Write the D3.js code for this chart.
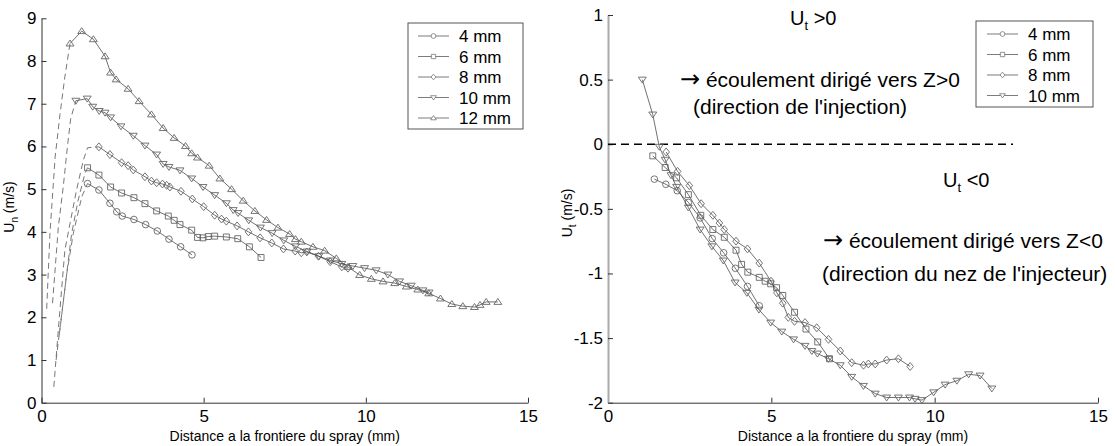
<!DOCTYPE html>
<html><head><meta charset="utf-8">
<script src="https://cdn.jsdelivr.net/npm/d3@7"></script>
<style>
body{margin:0;background:#fff}
svg{display:block}
text{font-family:"Liberation Sans",Arial,Helvetica,sans-serif;fill:#000}
</style>
</head><body>
<svg id="c" width="1115" height="446"></svg>
<script>
// ---------- DATA ----------
const xTicks = [0, 5, 10, 15];
const yTicksLeft = [0, 1, 2, 3, 4, 5, 6, 7, 8, 9];
const yTicksRight = [-2, -1.5, -1, -0.5, 0, 0.5, 1];
const xTitle = "Distance a la frontiere du spray (mm)";
const leftNames = ["4 mm", "6 mm", "8 mm", "10 mm", "12 mm"];
const rightNames = ["4 mm", "6 mm", "8 mm", "10 mm"];
const markerTypes = ["o", "s", "d", "v", "^"];

// Left chart: U_n (m/s)
const un4 = [[1.42,5.13],[1.77,4.98],[2.11,4.67],[2.32,4.47],[2.49,4.37],[2.85,4.29],[3.21,4.17],[3.57,4.02],[3.93,3.83],[4.29,3.65],[4.64,3.46]];
const un6 = [[1.42,5.50],[1.77,5.33],[2.13,5.05],[2.47,4.91],[2.85,4.80],[3.19,4.66],[3.55,4.49],[3.91,4.37],[4.09,4.27],[4.27,4.17],[4.63,4.04],[4.81,3.87],[4.98,3.86],[5.14,3.89],[5.34,3.90],[5.70,3.88],[6.05,3.84],[6.41,3.65],[6.77,3.40]];
const un8 = [[1.77,5.99],[2.11,5.81],[2.47,5.62],[2.67,5.55],[2.83,5.45],[3.19,5.29],[3.39,5.19],[3.55,5.15],[3.73,5.12],[3.86,5.09],[3.96,5.05],[4.30,4.95],[4.65,4.77],[5.00,4.59],[5.34,4.39],[5.55,4.30],[5.70,4.25],[6.03,4.14],[6.38,4.00],[6.74,3.86],[7.10,3.74],[7.46,3.60],[7.82,3.55],[8.01,3.51],[8.18,3.53],[8.54,3.43],[8.90,3.30],[9.26,3.18],[9.45,3.15]];
const un10 = [[1.06,7.07],[1.41,7.12],[1.58,6.93],[1.78,6.83],[1.96,6.79],[2.13,6.68],[2.45,6.47],[2.83,6.25],[3.19,6.02],[3.55,5.81],[3.75,5.59],[3.93,5.52],[4.27,5.44],[4.63,5.25],[4.98,5.05],[5.34,4.86],[5.70,4.67],[5.91,4.51],[6.06,4.44],[6.39,4.27],[6.75,4.10],[7.11,3.97],[7.47,3.80],[7.83,3.66],[8.19,3.54],[8.55,3.43],[8.91,3.33],[9.26,3.25],[9.60,3.20],[9.96,3.15],[10.32,3.10],[10.68,3.00],[11.04,2.84],[11.40,2.74],[11.76,2.63],[11.95,2.58]];
const un12 = [[0.88,8.41],[1.24,8.70],[1.60,8.51],[1.96,8.11],[2.13,7.73],[2.30,7.57],[2.67,7.35],[3.01,7.06],[3.39,6.75],[3.75,6.43],[4.09,6.20],[4.44,6.01],[4.63,5.84],[4.81,5.74],[5.17,5.55],[5.50,5.25],[5.86,5.00],[6.22,4.73],[6.58,4.49],[6.94,4.28],[7.29,4.10],[7.65,3.95],[7.83,3.83],[8.01,3.77],[8.37,3.65],[8.73,3.56],[9.09,3.38],[9.45,3.18],[9.81,2.99],[10.17,2.90],[10.53,2.84],[10.89,2.80],[11.25,2.72],[11.60,2.65],[11.94,2.56],[12.30,2.44],[12.65,2.31],[12.99,2.26],[13.35,2.24],[13.52,2.29],[13.71,2.36],[14.07,2.36]];
// dashed lead-in curves (left chart)
const lead4 = [[0.55,1.6],[0.78,3.03],[0.98,3.96],[1.24,4.82],[1.42,5.13]];
const lead6 = [[0.45,1.0],[0.93,3.96],[1.13,4.74],[1.34,5.37],[1.42,5.50]];
const lead8 = [[0.38,0.37],[0.55,2.0],[0.72,3.57],[0.88,4.20],[1.08,4.98],[1.29,5.68],[1.42,5.97],[1.77,5.99]];
const lead10 = [[0.34,2.33],[0.52,4.12],[0.67,5.05],[0.81,6.07],[0.90,6.65],[1.06,7.07]];
const lead12 = [[0.16,2.2],[0.26,3.96],[0.42,5.75],[0.57,6.75],[0.72,7.63],[0.88,8.41]];

// Right chart: U_t (m/s)
const ut4 = [[1.42,-0.27],[1.77,-0.31],[2.12,-0.36],[2.46,-0.45],[2.82,-0.57],[3.19,-0.73],[3.54,-0.84],[3.90,-0.96],[4.27,-1.10],[4.63,-1.25]];
const ut6 = [[1.37,-0.09],[1.75,-0.18],[2.10,-0.26],[2.46,-0.39],[2.84,-0.55],[3.21,-0.66],[3.56,-0.72],[3.92,-0.82],[4.09,-0.93],[4.28,-0.99],[4.63,-1.03],[4.81,-1.06],[4.98,-1.08],[5.16,-1.11],[5.35,-1.17],[5.71,-1.30],[6.06,-1.43],[6.42,-1.53],[6.78,-1.66]];
const ut8 = [[1.78,-0.06],[2.13,-0.21],[2.49,-0.32],[2.85,-0.46],[3.21,-0.55],[3.41,-0.61],[3.56,-0.66],[3.92,-0.75],[4.27,-0.81],[4.63,-0.92],[4.99,-1.06],[5.17,-1.15],[5.35,-1.23],[5.52,-1.34],[5.71,-1.37],[6.03,-1.38],[6.39,-1.42],[6.75,-1.51],[7.11,-1.60],[7.46,-1.69],[7.82,-1.71],[7.97,-1.70],[8.18,-1.70],[8.53,-1.67],[8.89,-1.66],[9.25,-1.72]];
const ut10 = [[1.05,0.50],[1.37,0.23],[1.57,-0.02],[1.75,-0.12],[1.93,-0.24],[2.10,-0.33],[2.46,-0.49],[2.82,-0.66],[3.18,-0.79],[3.53,-0.90],[3.89,-1.07],[4.25,-1.15],[4.62,-1.28],[4.98,-1.38],[5.32,-1.45],[5.68,-1.51],[6.03,-1.56],[6.24,-1.60],[6.41,-1.62],[6.75,-1.66],[7.11,-1.71],[7.46,-1.80],[7.82,-1.87],[8.18,-1.93],[8.53,-1.96],[8.89,-1.96],[9.23,-1.96],[9.40,-1.97],[9.61,-1.98],[9.97,-1.92],[10.32,-1.86],[10.68,-1.83],[11.04,-1.78],[11.39,-1.79],[11.75,-1.89]];
const zeroLine = [[0,0],[12.4,0]];

const leftData = [un4, un6, un8, un10, un12];
const leftLeads = [lead4, lead6, lead8, lead10, lead12];
const rightData = [ut4, ut6, ut8, ut10];

// ---------- DRAW ----------
const svg = d3.select("#c");
const fmt = d => String(d);

const xL = d3.scaleLinear([0, 15], [41.5, 528]);
const yL = d3.scaleLinear([0, 9], [402.7, 18.3]);
const xR = d3.scaleLinear([0, 15], [608, 1098]);
const yR = d3.scaleLinear([-2, 1], [402.7, 15]);

function markerPath(t, s) {
  if (t === "o") { const p = d3.path(); p.arc(0, 0, s, 0, 2 * Math.PI); p.closePath(); return p.toString(); }
  if (t === "s") return `M${-s*0.9},${-s*0.9}h${s*1.8}v${s*1.8}h${-s*1.8}Z`;
  if (t === "d") return `M0,${-s*1.2}L${s},0L0,${s*1.2}L${-s},0Z`;
  if (t === "v") return `M${-s*1.2},${-s*0.75}L${s*1.2},${-s*0.75}L0,${s*1.05}Z`;
  if (t === "^") return `M${-s*1.2},${s*0.75}L${s*1.2},${s*0.75}L0,${-s*1.05}Z`;
}

function drawAxes(g, x, y, yTicks, yAxisColor, yAxisWidth) {
  const ax = g.append("g").attr("transform", `translate(0,${y.range()[0]})`)
    .call(d3.axisBottom(x).tickValues(xTicks).tickFormat(fmt).tickSize(-5).tickSizeOuter(0).tickPadding(7));
  ax.selectAll("text").attr("font-size", 17);
  ax.select(".domain").attr("stroke", "#333");
  ax.selectAll(".tick line").attr("stroke", "#333");
  const ay = g.append("g").attr("transform", `translate(${x.range()[0]},0)`)
    .call(d3.axisLeft(y).tickValues(yTicks).tickFormat(fmt).tickSize(-5).tickSizeOuter(0).tickPadding(5));
  ay.selectAll("text").attr("font-size", 17);
  ay.select(".domain").attr("stroke", yAxisColor).attr("stroke-width", yAxisWidth);
  ay.selectAll(".tick line").attr("stroke", "#333");
  g.selectAll(".domain").attr("fill", "none");
}

function drawSeries(g, x, y, data) {
  const line = d3.line().x(d => x(d[0])).y(d => y(d[1]));
  data.forEach((ser, i) => {
    g.append("path").attr("d", line(ser)).attr("fill", "none").attr("stroke", "#333").attr("stroke-width", 0.7);
    g.selectAll(null).data(ser).enter().append("path")
      .attr("transform", d => `translate(${x(d[0])},${y(d[1])})`)
      .attr("d", markerPath(markerTypes[i], 3.3))
      .attr("fill", "none").attr("stroke", "#666").attr("stroke-width", 0.9);
  });
}

function drawLegend(g, x0, y0, w, h, names, rowY, lineX0, lineX1, textX) {
  g.append("rect").attr("x", x0).attr("y", y0).attr("width", w).attr("height", h)
    .attr("fill", "#fff").attr("stroke", "#555").attr("stroke-width", 1);
  names.forEach((n, i) => {
    const yy = rowY[i];
    g.append("line").attr("x1", lineX0).attr("x2", lineX1).attr("y1", yy).attr("y2", yy)
      .attr("stroke", "#444").attr("stroke-width", 0.7);
    g.append("path").attr("transform", `translate(${(lineX0+lineX1)/2},${yy})`)
      .attr("d", markerPath(markerTypes[i], 2.4)).attr("fill", "#fff").attr("stroke", "#777").attr("stroke-width", 0.8);
    g.append("text").attr("x", textX).attr("y", yy + 6).attr("font-size", 17).text(n);
  });
}

// ----- Left chart -----
const gL = svg.append("g");
drawAxes(gL, xL, yL, yTicksLeft, "#333", 1);
const leadLine = d3.line().x(d => xL(d[0])).y(d => yL(d[1]));
leftLeads.forEach(s => gL.append("path").attr("d", leadLine(s)).attr("fill", "none")
  .attr("stroke", "#777").attr("stroke-width", 1).attr("stroke-dasharray", "6,4"));
drawSeries(gL, xL, yL, leftData);
drawLegend(gL, 408, 23, 115, 106, leftNames, [36, 56.5, 77, 97.5, 118], 418, 449, 459);
gL.append("text").attr("x", d3.mean(xL.range())).attr("y", 441).attr("text-anchor", "middle")
  .attr("font-size", 14).text(xTitle);
const tl = gL.append("text").attr("transform", "translate(14,207) rotate(-90)").attr("text-anchor", "middle").attr("font-size", 14);
tl.append("tspan").text("U");
tl.append("tspan").attr("dy", 4).attr("font-size", 10).text("n");
tl.append("tspan").attr("dy", -4).text(" (m/s)");

// ----- Right chart -----
const gR = svg.append("g");
drawAxes(gR, xR, yR, yTicksRight, "#aaa", 2);
gR.append("path").attr("d", d3.line().x(d => xR(d[0])).y(d => yR(d[1]))(zeroLine))
  .attr("stroke", "#000").attr("stroke-width", 1.5).attr("stroke-dasharray", "8,5").attr("fill", "none");
drawSeries(gR, xR, yR, rightData);
drawLegend(gR, 976, 21, 117, 86, rightNames, [34, 54.5, 75, 95.5], 987, 1018, 1028);
gR.append("text").attr("x", d3.mean(xR.range())).attr("y", 441).attr("text-anchor", "middle")
  .attr("font-size", 14).text(xTitle);
const tr = gR.append("text").attr("transform", "translate(572,213) rotate(-90)").attr("text-anchor", "middle").attr("font-size", 14);
tr.append("tspan").text("U");
tr.append("tspan").attr("dy", 4).attr("font-size", 10).text("t");
tr.append("tspan").attr("dy", -4).text(" (m/s)");

function subText(g, x, y, main, sub, rest) {
  const t = g.append("text").attr("x", x).attr("y", y).attr("font-size", 20);
  t.append("tspan").text(main);
  t.append("tspan").attr("dy", 5).attr("font-size", 13).text(sub);
  t.append("tspan").attr("dy", -5).text(rest);
}
function arrowText(g, x, y, rest) {
  const t = g.append("text").attr("x", x).attr("y", y).attr("font-size", 21);
  t.append("tspan").attr("font-family", "DejaVu Sans").attr("font-size", 24).text("\u2192");
  t.append("tspan").text(" " + rest);
}
subText(gR, 790, 25, "U", "t", " >0");
arrowText(gR, 680, 87, "écoulement dirigé vers Z>0");
gR.append("text").attr("x", 693).attr("y", 114).attr("font-size", 21).text("(direction de l'injection)");
subText(gR, 943, 187, "U", "t", " <0");
arrowText(gR, 823, 248, "écoulement dirigé vers Z<0");
gR.append("text").attr("x", 822).attr("y", 281).attr("font-size", 21).text("(direction du nez de l'injecteur)");
</script>
</body></html>
